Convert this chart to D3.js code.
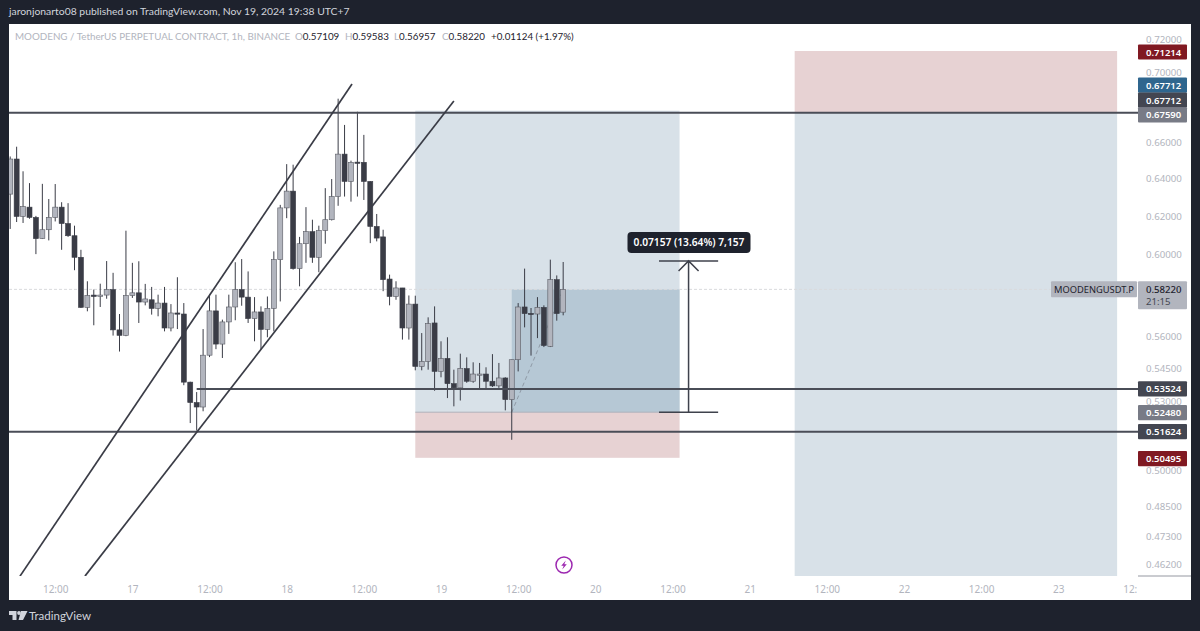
<!DOCTYPE html>
<html><head><meta charset="utf-8">
<style>html,body{margin:0;padding:0;background:#1e222d;overflow:hidden}svg{display:block}text{font-family:"Noto Sans",sans-serif}</style>
<script src="https://cdn.jsdelivr.net/npm/d3@7/dist/d3.min.js"></script></head><body><script>
const opens=[.6310,.6500,.6192,.6241,.6187,.6077,.6123,.6187,.6241,.6155,.6092,.5982,.5734,.5794,.5788,.5794,.5821,.5626,.5600,.5792,.5805,.5760,.5771,.5729,.5755,.5635,.5707,.5702,.5383,.5291,.5271,.5507,.5717,.5559,.5664,.5736,.5821,.5784,.5680,.5712,.5628,.5729,.5970,.6237,.6326,.5925,.6051,.6113,.5982,.6119,.6175,.6297,.6527,.6378,.6483,.6482,.6378,.6140,.6086,.5873,.5787,.5829,.5635,.5750,.5455,.5478,.5659,.5432,.5492,.5376,.5357,.5445,.5387,.5417,.5420,.5387,.5366,.5402,.5304,.5486,.5736,.5705,.5702,.5734,.5548,.5870,.57109];
const closes=[.6500,.6192,.6244,.6187,.6077,.6123,.6187,.6241,.6155,.6092,.5982,.5734,.5792,.5787,.5794,.5821,.5626,.5600,.5792,.5805,.5760,.5775,.5729,.5755,.5635,.5707,.5702,.5383,.5291,.5271,.5507,.5717,.5559,.5664,.5736,.5821,.5784,.5680,.5712,.5628,.5729,.5970,.6237,.6326,.5925,.6051,.6113,.5982,.6119,.6175,.6297,.6527,.6378,.6482,.6478,.6378,.6140,.6080,.5870,.5787,.5829,.5635,.5750,.5455,.5478,.5656,.5432,.5492,.5376,.5357,.5446,.5387,.5420,.5420,.5387,.5366,.5402,.5304,.5486,.5736,.5704,.5702,.5734,.5552,.5870,.5704,.58220];
const highs=[.6514,.6568,.6433,.6369,.6195,.6365,.6284,.6364,.6267,.6262,.6144,.6020,.5862,.5821,.5850,.5963,.5904,.5702,.6118,.5954,.5962,.5849,.5834,.5796,.5834,.5750,.5882,.5755,.5385,.5338,.5630,.5796,.5796,.5675,.5796,.5957,.5973,.5911,.5784,.5739,.5787,.6012,.6253,.6472,.6469,.6086,.6241,.6175,.6144,.6342,.6391,.6840,.6690,.6491,.6765,.6634,.6380,.6205,.6123,.5895,.5862,.5829,.5792,.5791,.5611,.5686,.5739,.5572,.5591,.5440,.5514,.5497,.5474,.5471,.5451,.5512,.5471,.5405,.5486,.5755,.5925,.5731,.5784,.5744,.5970,.5891,.59583];
const lows=[.6127,.6163,.6158,.6180,.5998,.6075,.6068,.6166,.6020,.6086,.5917,.5731,.5715,.5648,.5736,.5776,.5599,.5524,.5596,.5780,.5659,.5744,.5699,.5691,.5619,.5619,.5630,.5369,.5200,.5167,.5252,.5498,.5535,.5494,.5607,.5672,.5742,.5659,.5572,.5535,.5591,.5619,.5763,.6183,.5920,.5837,.5954,.5954,.5907,.6051,.6171,.6248,.6297,.6270,.6297,.6279,.6054,.6063,.5813,.5744,.5771,.5580,.5580,.5437,.5437,.5440,.5344,.5405,.5311,.5274,.5300,.5380,.5380,.5352,.5352,.5361,.5357,.5256,.5127,.5432,.5638,.5505,.5587,.5545,.5545,.5670,.56957];
const firstCandleHour=Date.UTC(2024,10,16,5);
const priceTicks=[.72,.70,.66,.64,.62,.60,.56,.545,.53,.50,.485,.473,.462];
const timeTicks=[[16,12],[17,0],[17,12],[18,0],[18,12],[19,0],[19,12],[20,0],[20,12],[21,0],[21,12],[22,0],[22,12],[23,0],[23,12]];
const hLines=[{p:.6759,from:[16,0]},{p:.53524,from:[17,10]},{p:.51624,from:[16,0]}];
const channels=[[[16,6.52,.4569],[18,10.16,.6925]],[[16,16.63,.4569],[19,2,.6827]]];
const lastPrice=.5822, entry1=.5248, stop1=.50495, target1=.67712, entry2=.6759, stop2=.71214, floorPrice=.4569, measureTop=.59637;
const priceLabels=[{v:"0.71214",p:.71214,c:"#801922",t:"#fff",d:1},{v:"0.67712",p:.67712,c:"#2f668e",t:"#fff",d:-25.6},{v:"0.67712",p:.67712,c:"#434651",t:"#fff",d:-10.6},{v:"0.67590",p:.6759,c:"#787b86",t:"#fff",d:2},{v:"0.53524",p:.53524,c:"#434651",t:"#fff",d:0},{v:"0.52480",p:.5248,c:"#787b86",t:"#fff",d:.5},{v:"0.51624",p:.51624,c:"#434651",t:"#fff",d:0},{v:"0.50495",p:.50495,c:"#801922",t:"#fff",d:.8}];

const W=1200,H=631,px=1138,pT=24,pB=576,fR=1191,fB=600,fL=9,prose='Lato,sans-serif';
const day=(d,h=0)=>Date.UTC(2024,10,d)+h*36e5;
const x=d3.scaleUtc().domain([firstCandleHour,firstCandleHour+175*36e5]).range([10.2,10.2+6.43*175]);
const y=d3.scaleLog().domain([.462,.72]).range([563,38]);
const svg=d3.select("body").append("svg").attr("width",W).attr("height",H);
svg.append("rect").attr("width",W).attr("height",H).attr("fill","#1e222d");
svg.append("rect").attr("x",fL).attr("y",pT).attr("width",fR-fL).attr("height",fB-pT).attr("fill","#fff");
svg.append("text").attr("x",9).attr("y",15).attr("font-size",10.4).attr("fill","#d1d4dc").style("font-family",prose).text("jaronjonarto08 published on TradingView.com, Nov 19, 2024 19:38 UTC+7");
const defs=svg.append("defs");
defs.append("clipPath").attr("id","pane").append("rect").attr("x",fL).attr("y",pT).attr("width",px-fL).attr("height",pB-pT);
defs.append("clipPath").attr("id","tclip").append("rect").attr("x",fL).attr("y",pB).attr("width",px-fL-1).attr("height",fB-pB);
const g=svg.append("g").attr("clip-path","url(#pane)");
const rect=(x0,x1,p0,p1,c)=>g.append("rect").attr("x",x(x0)).attr("width",x(x1)-x(x0)).attr("y",y(p0)).attr("height",y(p1)-y(p0)).attr("fill",c);
const a0=day(18,20),a1=day(20,13.1),am=day(19,11),b0=day(21,7),b1=day(23,9.15);
rect(a0,a1,target1,entry1,"#d8e1e8");
rect(a0,a1,entry1,stop1,"#e7d2d3");
rect(am,a1,lastPrice,entry1,"#b6c8d5");
rect(b0,b1,stop2,entry2,"#e7d2d3");
rect(b0,b1,entry2,floorPrice,"#d8e1e8");
g.append("line").attr("x1",x(a0)).attr("x2",x(a1)).attr("y1",y(entry1)).attr("y2",y(entry1)).attr("stroke","#aeb0b8").attr("stroke-width",1);
g.append("line").attr("x1",fL).attr("x2",px).attr("y1",y(lastPrice)).attr("y2",y(lastPrice)).attr("stroke","#d9dadd").attr("stroke-width",1).attr("stroke-dasharray","3 2");
g.append("line").attr("x1",x(am)).attr("x2",x(day(19,19))).attr("y1",y(entry1)).attr("y2",y(lastPrice)).attr("stroke","#8f9aa6").attr("stroke-width",1).attr("stroke-dasharray","4 3");
const ink="#3a3c46";
const c=g.append("g").selectAll("g").data(opens.map((o,i)=>({o,c:closes[i],h:highs[i],l:lows[i],t:firstCandleHour+i*36e5}))).join("g");
c.append("line").attr("x1",d=>x(d.t)).attr("x2",d=>x(d.t)).attr("y1",d=>y(d.h)).attr("y2",d=>y(d.l)).attr("stroke",ink).attr("stroke-width",1);
c.append("rect").attr("x",d=>x(d.t)-2.5).attr("width",5).attr("y",d=>y(Math.max(d.o,d.c))).attr("height",d=>Math.max(1.2,Math.abs(y(d.o)-y(d.c)))).attr("fill",d=>d.c>=d.o?"#b2b5be":ink).attr("stroke",d=>d.c>=d.o?"#585a63":ink).attr("stroke-width",.6);
hLines.forEach(l=>g.append("line").attr("x1",x(day(l.from[0],l.from[1]))).attr("x2",px).attr("y1",y(l.p)).attr("y2",y(l.p)).attr("stroke","#4a4d57").attr("stroke-width",2));
channels.forEach(s=>g.append("line").attr("x1",x(day(s[0][0],s[0][1]))).attr("y1",y(s[0][2])).attr("x2",x(day(s[1][0],s[1][1]))).attr("y2",y(s[1][2])).attr("stroke","#3a3c46").attr("stroke-width",1.7));
// measure tool
const mx=x(day(20,14.5)),ml=x(day(20,9.9)),mr=x(day(20,19.1));
[measureTop,entry1].forEach(p=>svg.append("line").attr("x1",ml).attr("x2",mr).attr("y1",y(p)).attr("y2",y(p)).attr("stroke","#3f424c").attr("stroke-width",1.5));
svg.append("path").attr("d",`M${mx},${y(entry1)}V${y(measureTop)}M${mx-10},${y(measureTop)+10}L${mx},${y(measureTop)}L${mx+10},${y(measureTop)+10}`).attr("fill","none").attr("stroke","#3f424c").attr("stroke-width",1.5);
svg.append("rect").attr("x",627.5).attr("y",232).attr("width",123).attr("height",21).attr("rx",4).attr("fill","#1e222d");
svg.append("text").attr("x",689).attr("y",246).attr("text-anchor","middle").attr("font-size",10.2).attr("font-weight",600).attr("fill","#fff").text("0.07157 (13.64%) 7,157");
// header legend
const lg=svg.append("text").attr("x",15).attr("y",40).attr("font-size",9.8).attr("fill","#b2b5be").style("font-family",prose);
lg.append("tspan").text("MOODENG / TetherUS PERPETUAL CONTRACT, 1h, BINANCE");
[["O","0.57109",295],["H","0.59583",345],["L","0.56957",394],["C","0.58220",442]].forEach(([k,v,xx])=>{lg.append("tspan").attr("x",xx).text(k);lg.append("tspan").attr("fill","#1e222d").text(v);});
lg.append("tspan").attr("x",491).attr("fill","#1e222d").text("+0.01124 (+1.97%)");
// axes
const pAxis=svg.append("g").attr("transform",`translate(${px},0)`).call(d3.axisRight(y).tickValues(priceTicks).tickSize(0).tickPadding(8).tickFormat(d3.format(".5f")));
pAxis.select(".domain").remove();pAxis.selectAll("text").attr("fill","#b2b5be").attr("font-size",9.7).attr("transform","translate(0,1)").style("font-family",'"Noto Sans",sans-serif');
const tv=timeTicks.map(([d,h])=>new Date(day(d,h)));
const tAxis=svg.append("g").attr("clip-path","url(#tclip)").append("g").attr("transform",`translate(0,${pB})`).call(d3.axisBottom(x).tickValues(tv).tickSize(0).tickPadding(10).tickFormat(d=>d.getUTCHours()?"12:00":String(d.getUTCDate())));
tAxis.select(".domain").remove();tAxis.selectAll("text").attr("fill","#b2b5be").attr("font-size",10).style("font-family",'"Noto Sans",sans-serif');
svg.append("line").attr("x1",px).attr("x2",fR).attr("y1",pB).attr("y2",pB).attr("stroke","#9598a1");
// labels
priceLabels.forEach(l=>{const cy=y(l.p)+l.d;
 svg.append("rect").attr("x",px).attr("y",cy-7.6).attr("width",49).attr("height",15.2).attr("rx",1).attr("fill",l.c);
 svg.append("text").attr("x",px+8).attr("y",cy+3.6).attr("font-size",9.5).attr("font-weight",600).attr("fill",l.t).text(l.v);});
svg.append("rect").attr("x",1051).attr("y",y(lastPrice)-8).attr("width",86).attr("height",16).attr("rx",1).attr("fill","#b2b5be");
svg.append("text").attr("x",1094).attr("y",y(lastPrice)+3.6).attr("text-anchor","middle").attr("font-size",9.3).attr("fill","#1e222d").text("MOODENGUSDT.P");
svg.append("rect").attr("x",px).attr("y",y(lastPrice)-8).attr("width",49).attr("height",28).attr("rx",1).attr("fill","#b2b5be");
svg.append("text").attr("x",px+8).attr("y",y(lastPrice)+3.6).attr("font-size",9.6).attr("font-weight",500).attr("fill","#1e222d").text("0.58220");
svg.append("text").attr("x",px+8).attr("y",y(lastPrice)+16).attr("font-size",9.6).attr("fill","#434651").text("21:15");
// bolt icon
const ic=svg.append("g").attr("transform","translate(564,565)");
ic.append("circle").attr("r",8).attr("fill","#fff").attr("stroke","#9c27b0").attr("stroke-width",1.5);
ic.append("path").attr("d","M1.8,-4.5L-2.8,0.8H-0.3L-1.8,4.5L2.8,-0.8H0.3Z").attr("fill","#9c27b0");
// logo
const lo=svg.append("g").attr("transform","translate(9,610)").attr("fill","#d1d4dc");
lo.append("path").attr("d","M0,1H7.5V10H3.5V5H0ZM12,1H18.5L14,10H9.5L12,1Z");
lo.append("circle").attr("cx",10).attr("cy",3).attr("r",1.9);
svg.append("text").attr("x",29).attr("y",620).attr("font-size",11.5).attr("fill","#d1d4dc").style("font-family",prose).text("TradingView");
</script></body></html>
